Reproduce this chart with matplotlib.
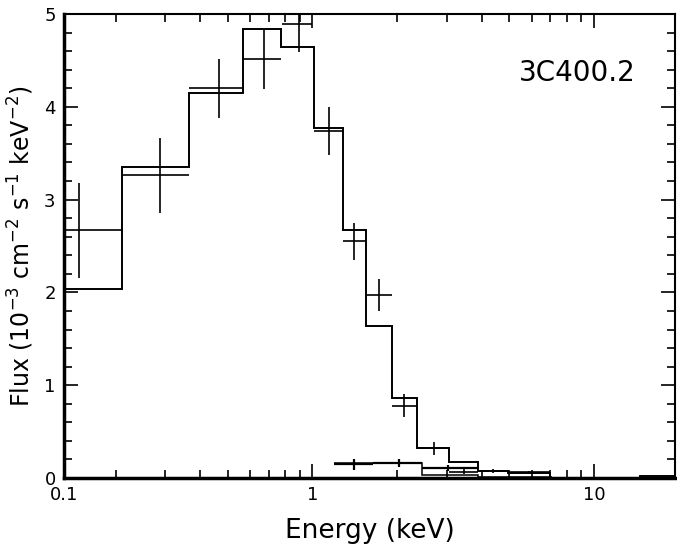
import numpy as np
import matplotlib
matplotlib.use("Agg")
from matplotlib import pyplot as plt
from matplotlib.ticker import FixedLocator, NullFormatter

# model (step histogram), main spectrum
edges = [0.131, 0.21, 0.363, 0.565, 0.776, 1.01, 1.28, 1.55, 1.91, 2.36,
         3.06, 3.88, 4.95, 7.0, 14.6, 19.4]
model = [2.04, 3.35, 4.15, 4.84, 4.64, 3.77, 2.67, 1.64, 0.86, 0.32,
         0.17, 0.075, 0.05, 0.005, 0.025]

# data points, main spectrum
e_lo = [0.131, 0.21, 0.363, 0.565, 0.78, 1.01, 1.28, 1.55, 1.91, 2.36, 3.06, 3.88, 4.95]
e_hi = [0.21, 0.363, 0.565, 0.776, 1.0, 1.28, 1.55, 1.91, 2.36, 3.06, 3.88, 4.95, 7.0]
e_c = [0.148, 0.287, 0.464, 0.67, 0.892, 1.14, 1.41, 1.73, 2.12, 2.71, 3.46, 4.38, 5.88]
flux = [2.67, 3.26, 4.2, 4.51, 4.89, 3.74, 2.55, 1.97, 0.78, 0.32, 0.07, 0.075, 0.06]
ferr = [0.51, 0.40, 0.32, 0.32, 0.30, 0.26, 0.20, 0.17, 0.12, 0.07, 0.03, 0.02, 0.02]

# second (hard band) spectrum
edges2 = [1.19, 1.64, 2.45, 3.88, 4.95, 7.1]
model2 = [0.16, 0.16, 0.03, 0.015, 0.01]
e2_lo = [1.19, 1.64, 2.45]
e2_hi = [1.64, 2.45, 3.88]
e2_c = [1.41, 2.03, 3.03]
flux2 = [0.15, 0.16, 0.11]
ferr2 = [0.06, 0.04, 0.03]

plt.rcParams['font.family'] = ['DejaVu Sans']

fig = plt.figure(figsize=(6.77, 5.49), dpi=100)
ax = fig.add_axes([64/677, 1-478/549, 611/677, 464/549])

ax.stairs(model, edges, color='black', lw=1.4, baseline=None)
ax.stairs(model2, edges2, color='black', lw=1.1, baseline=None)

xc = np.array(e_c)
ax.errorbar(e_c, flux, yerr=ferr, xerr=[xc-np.array(e_lo), np.array(e_hi)-xc],
            fmt='none', ecolor='black', elinewidth=1.2, capsize=0)
xc2 = np.array(e2_c)
ax.errorbar(e2_c, flux2, yerr=ferr2, xerr=[xc2-np.array(e2_lo), np.array(e2_hi)-xc2],
            fmt='none', ecolor='black', elinewidth=1.6, capsize=0)

ax.set_xscale('log')
ax.set_xlim(0.131, 19.4)
ax.set_ylim(0, 5)

ax.xaxis.set_major_locator(FixedLocator([0.131, 1, 10]))
ax.set_xticklabels(['0.1', '1', '10'])
ax.xaxis.set_minor_locator(FixedLocator([0.2, 0.3, 0.4, 0.5, 0.6, 0.7, 0.8, 0.9,
                                         2, 3, 4, 5, 6, 7, 8, 9]))
ax.xaxis.set_minor_formatter(NullFormatter())
ax.set_yticks([0, 1, 2, 3, 4, 5])
ax.set_yticks(np.arange(0, 5.01, 0.2), minor=True)

ax.tick_params(which='both', direction='in', top=True, right=True,
               labelsize=13, width=1.2)
ax.tick_params(which='major', length=10, pad=6)
ax.tick_params(which='minor', length=6)

for s in ['left', 'bottom']:
    ax.spines[s].set_linewidth(2.5)
for s in ['top', 'right']:
    ax.spines[s].set_linewidth(1.5)

ax.set_xlabel('Energy (keV)', fontsize=19, labelpad=10)
ax.set_ylabel(r'Flux (10$^{-3}$ cm$^{-2}$ s$^{-1}$ keV$^{-2}$)', fontsize=17, labelpad=6)

ax.text(0.745, 0.873, '3C400.2', transform=ax.transAxes, fontsize=20,
        ha='left', va='center')

plt.savefig('out.png', dpi=100)
